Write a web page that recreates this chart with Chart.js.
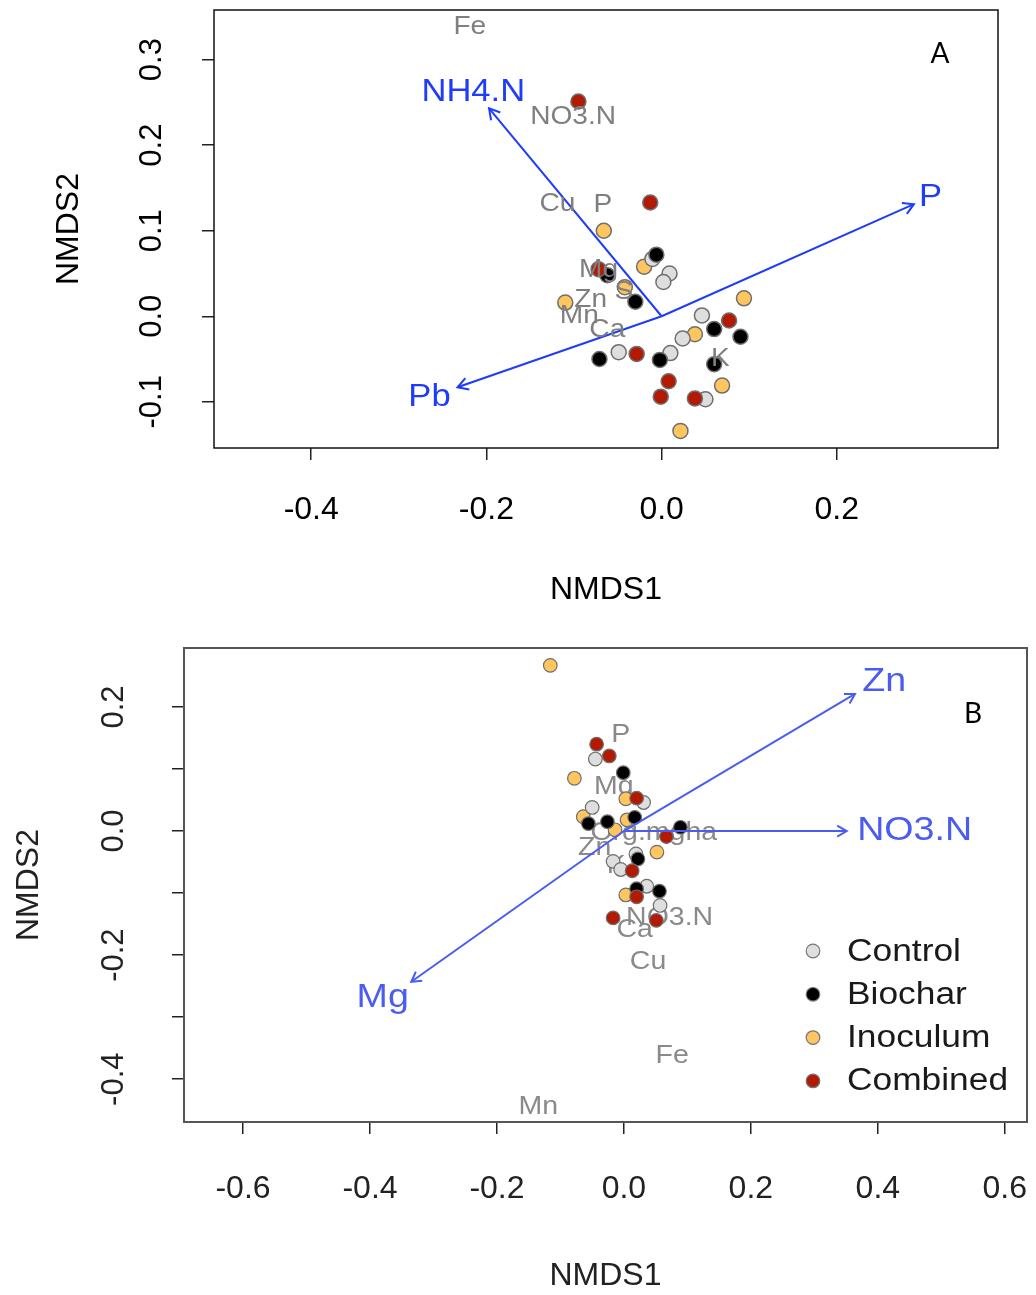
<!DOCTYPE html>
<html>
<head>
<meta charset="utf-8">
<title>NMDS ordination</title>
<script src="https://cdn.jsdelivr.net/npm/chart.js@4.4.0/dist/chart.umd.min.js"></script>
<style>
  html, body { margin: 0; padding: 0; background: #fff; }
  #chartA { position: absolute; left: 0; top: 0; }
  #chartB { position: absolute; left: 0; top: 620px; }
</style>
</head>
<body>
<canvas id="chartA" width="1036" height="620"></canvas>
<canvas id="chartB" width="1036" height="675"></canvas>
<script>
// ---- data ----
const groups = ['Control', 'Biochar', 'Inoculum', 'Combined'];

// Panel A site scores [NMDS1, NMDS2]
const controlA = [[-0.0105, 0.067], [0.009, 0.050], [0.002, 0.040], [0.046, 0.001],
                  [0.024, -0.026], [-0.049, -0.042], [0.010, -0.043], [0.050, -0.097]];
const biocharA = [[-0.006, 0.072], [-0.062, 0.048], [-0.030, 0.017], [0.060, -0.015],
                  [0.090, -0.024], [-0.071, -0.050], [-0.002, -0.051], [0.060, -0.056]];
const inoculumA = [[-0.066, 0.100], [-0.020, 0.058], [-0.042, 0.034], [-0.110, 0.016],
                   [0.094, 0.021], [0.038, -0.021], [0.069, -0.081], [0.0215, -0.134]];
const combinedA = [[-0.095, 0.251], [-0.013, 0.133], [-0.072, 0.055], [-0.0285, -0.044],
                   [0.077, -0.005], [0.008, -0.076], [-0.001, -0.094], [0.038, -0.096]];

// Panel A fitted vectors
const vectorNamesA = ['NH4.N', 'P', 'Pb'];
const vectorTipsA = [[-0.197, 0.243], [0.288, 0.131], [-0.233, -0.083]];
const vectorLabelPosA = [[-0.215, 0.262], [0.307, 0.139], [-0.265, -0.094]];

// Panel A variable labels (grey)
const speciesNamesA = ['Fe', 'NO3.N', 'Cu', 'P', 'Mg', 'S', 'Zn', 'Mn', 'Ca', 'K'];
const speciesPosA = [[-0.219, 0.338], [-0.101, 0.233], [-0.119, 0.131], [-0.067, 0.130],
                     [-0.072, 0.054], [-0.043, 0.029], [-0.081, 0.019], [-0.094, 0.000],
                     [-0.062, -0.016], [0.067, -0.050]];

const xTicksA = [-0.4, -0.2, 0.0, 0.2];
const xTickLabelsA = ['-0.4', '-0.2', '0.0', '0.2'];
const yTicksA = [-0.1, 0.0, 0.1, 0.2, 0.3];
const yTickLabelsA = ['-0.1', '0.0', '0.1', '0.2', '0.3'];

// Panel B site scores
const controlB = [[-0.045, 0.116], [-0.050, 0.038], [0.031, 0.046], [0.019, -0.037],
                  [-0.017, -0.049], [-0.005, -0.062], [0.036, -0.089], [0.057, -0.120]];
const biocharB = [[-0.001, 0.094], [-0.056, 0.012], [-0.026, 0.015], [0.017, 0.022],
                  [0.089, 0.006], [0.022, -0.045], [0.056, -0.097], [0.020, -0.093]];
const inoculumB = [[-0.116, 0.267], [-0.078, 0.085], [0.003, 0.052], [-0.064, 0.023],
                   [0.005, 0.018], [-0.014, 0.002], [0.052, -0.034], [0.003, -0.103]];
const combinedB = [[-0.043, 0.140], [-0.023, 0.121], [0.020, 0.053], [0.067, -0.009],
                   [0.013, -0.064], [0.020, -0.106], [-0.017, -0.140], [0.051, -0.144]];

const vectorNamesB = ['Zn', 'NO3.N', 'Mg'];
const vectorTipsB = [[0.364, 0.221], [0.351, 0.000], [-0.335, -0.243]];
const vectorLabelPosB = [[0.410, 0.241], [0.458, 0.000], [-0.380, -0.269]];

const speciesNamesB = ['P', 'Mg', 'Org.mgha', 'Zn', 'K', 'NO3.N', 'Ca', 'Cu', 'Fe', 'Mn'];
const speciesPosB = [[-0.005, 0.155], [-0.016, 0.071], [0.047, -0.003], [-0.046, -0.027],
                     [-0.012, -0.057], [0.072, -0.140], [0.017, -0.160], [0.038, -0.211],
                     [0.076, -0.363], [-0.135, -0.445]];

const xTicksB = [-0.6, -0.4, -0.2, 0.0, 0.2, 0.4, 0.6];
const xTickLabelsB = ['-0.6', '-0.4', '-0.2', '0.0', '0.2', '0.4', '0.6'];
const yTicksB = [-0.4, -0.3, -0.2, -0.1, 0.0, 0.1, 0.2];
const yTickLabelsB = ['-0.4', '', '-0.2', '', '0.0', '', '0.2'];

// ---- styling ----
const FONT = '"Liberation Sans", Arial, Helvetica, sans-serif';
const groupFill = ['#dedede', '#000000', '#ffc660', '#b31a04'];
const groupOrder = [3, 2, 4, 1];   // higher = drawn lower

const panelInfo = {
  chartA: {
    speciesNames: speciesNamesA, speciesPos: speciesPosA,
    vectorNames: vectorNamesA, vectorLabelPos: vectorLabelPosA,
    blue: '#1e3cfa', grey: '#7f7f7f', speciesSize: 26, vectorSize: 32, stretch: 1.08,
    labelsUnder: false, frameColor: '#111', letter: 'A', letterPos: [940, 54],
    headLen: 12, legend: false
  },
  chartB: {
    speciesNames: speciesNamesB, speciesPos: speciesPosB,
    vectorNames: vectorNamesB, vectorLabelPos: vectorLabelPosB,
    blue: '#4a5cf2', grey: '#8a8a8a', speciesSize: 25, vectorSize: 33, stretch: 1.14,
    labelsUnder: true, frameColor: '#555', letter: 'B', letterPos: [973, 94],
    headLen: 11, legend: true
  }
};

// text drawn slightly wider than tall, like the stretched original
function stretchedText(ctx, txt, x, y, sx) {
  ctx.save();
  ctx.translate(x, y);
  ctx.scale(sx, 1);
  ctx.fillText(txt, 0, 0);
  ctx.restore();
}

function drawSpecies(chart, info) {
  const ctx = chart.ctx, xs = chart.scales.x, ys = chart.scales.y;
  ctx.save();
  ctx.font = info.speciesSize + 'px ' + FONT;
  ctx.fillStyle = info.grey;
  ctx.textAlign = 'center';
  ctx.textBaseline = 'middle';
  info.speciesNames.forEach((name, i) => {
    const p = info.speciesPos[i];
    stretchedText(ctx, name, xs.getPixelForValue(p[0]), ys.getPixelForValue(p[1]), info.stretch);
  });
  ctx.restore();
}

function drawVectorExtras(chart, info) {
  const ctx = chart.ctx, xs = chart.scales.x, ys = chart.scales.y;
  ctx.save();
  chart.data.datasets.forEach((ds, i) => {
    if (!ds.isVector) return;
    const pts = chart.getDatasetMeta(i).data;
    const a = pts[0], b = pts[1];
    const ang = Math.atan2(b.y - a.y, b.x - a.x);
    const len = info.headLen;
    ctx.strokeStyle = ds.borderColor;
    ctx.lineWidth = ds.borderWidth;
    ctx.beginPath();
    ctx.moveTo(b.x - len * Math.cos(ang - Math.PI / 6), b.y - len * Math.sin(ang - Math.PI / 6));
    ctx.lineTo(b.x, b.y);
    ctx.lineTo(b.x - len * Math.cos(ang + Math.PI / 6), b.y - len * Math.sin(ang + Math.PI / 6));
    ctx.stroke();
  });
  ctx.font = info.vectorSize + 'px ' + FONT;
  ctx.fillStyle = info.blue;
  ctx.textAlign = 'center';
  ctx.textBaseline = 'middle';
  info.vectorNames.forEach((name, i) => {
    const p = info.vectorLabelPos[i];
    stretchedText(ctx, name, xs.getPixelForValue(p[0]), ys.getPixelForValue(p[1]), info.stretch);
  });
  ctx.restore();
}

function drawLegend(chart, info) {
  const ctx = chart.ctx;
  ctx.save();
  ctx.font = '31px ' + FONT;
  ctx.textAlign = 'left';
  ctx.textBaseline = 'middle';
  groups.forEach((g, i) => {
    const y = 331 + i * 43.3;
    ctx.beginPath();
    ctx.arc(813, y, 6.8, 0, Math.PI * 2);
    ctx.fillStyle = groupFill[i];
    ctx.fill();
    ctx.lineWidth = 1.2;
    ctx.strokeStyle = '#777';
    ctx.stroke();
    ctx.fillStyle = '#1a1a1a';
    stretchedText(ctx, g, 847, y + 1, info.stretch);
  });
  ctx.restore();
}

const decorPlugin = {
  id: 'decor',
  beforeDatasetsDraw(chart) {
    const info = panelInfo[chart.canvas.id];
    if (info.labelsUnder) drawSpecies(chart, info);
  },
  afterDatasetsDraw(chart) {
    const info = panelInfo[chart.canvas.id];
    if (!info.labelsUnder) drawSpecies(chart, info);
    drawVectorExtras(chart, info);
    const ctx = chart.ctx, ca = chart.chartArea;
    ctx.save();
    ctx.strokeStyle = info.frameColor;
    ctx.lineWidth = info.legend ? 2 : 1.5;
    ctx.strokeRect(ca.left, ca.top, ca.right - ca.left, ca.bottom - ca.top);
    ctx.font = '28px Lato, "Open Sans", sans-serif';
    ctx.fillStyle = '#000';
    ctx.textAlign = 'center';
    ctx.textBaseline = 'middle';
    ctx.fillText(info.letter, info.letterPos[0], info.letterPos[1]);
    ctx.restore();
    if (info.legend) drawLegend(chart, info);
  }
};

function toXY(arr) {
  return arr.map(p => ({ x: p[0], y: p[1] }));
}

function buildPanel(id, d) {
  const datasets = [];
  d.points.forEach((pts, gi) => {
    datasets.push({
      label: groups[gi],
      data: toXY(pts),
      backgroundColor: groupFill[gi],
      borderColor: '#6f6f6f',
      borderWidth: d.pointBorder,
      pointRadius: d.pointRadius,
      pointHoverRadius: d.pointRadius,
      order: groupOrder[gi]
    });
  });
  d.vectors.forEach((tip, vi) => {
    datasets.push({
      label: d.vectorNames[vi],
      isVector: true,
      data: [{ x: 0, y: 0 }, { x: tip[0], y: tip[1] }],
      showLine: true,
      borderColor: panelInfo[id].blue,
      borderWidth: 2,
      pointRadius: 0,
      order: 0
    });
  });

  const gridStyle = { drawOnChartArea: false, drawTicks: true, tickLength: 12, color: '#222', lineWidth: 1.5 };

  return new Chart(document.getElementById(id), {
    type: 'scatter',
    data: { datasets: datasets },
    options: {
      responsive: false,
      animation: false,
      events: [],
      layout: { padding: d.padding },
      plugins: { legend: { display: false }, tooltip: { enabled: false } },
      scales: {
        x: {
          type: 'linear', min: d.xRange[0], max: d.xRange[1],
          afterBuildTicks: s => { s.ticks = d.xTicks.map(v => ({ value: v })); },
          afterFit: s => { s.height = d.xAxisHeight; s.paddingLeft = 0; s.paddingRight = 0; },
          ticks: {
            callback: (v, i) => d.xTickLabels[i],
            font: { family: FONT, size: 32 }, color: d.tickColor,
            padding: d.xTickPad, maxRotation: 0, autoSkip: false
          },
          grid: gridStyle,
          border: { display: false },
          title: { display: true, text: 'NMDS1', font: { family: FONT, size: 32 }, color: d.tickColor,
                   padding: { top: 0, bottom: d.xTitlePad } }
        },
        y: {
          type: 'linear', min: d.yRange[0], max: d.yRange[1],
          afterBuildTicks: s => { s.ticks = d.yTicks.map(v => ({ value: v })); },
          afterFit: s => { s.width = d.yAxisWidth; s.paddingTop = 0; s.paddingBottom = 0; },
          ticks: {
            callback: (v, i) => d.yTickLabels[i],
            font: { family: FONT, size: 31 }, color: d.tickColor,
            padding: d.yTickPad, minRotation: 90, maxRotation: 90,
            crossAlign: 'center', autoSkip: false
          },
          grid: gridStyle,
          border: { display: false },
          title: { display: true, text: 'NMDS2', font: { family: FONT, size: 32 }, color: d.tickColor,
                   padding: { top: d.yTitlePad, bottom: 0 } }
        }
      }
    },
    plugins: [decorPlugin]
  });
}

buildPanel('chartA', {
  points: [controlA, biocharA, inoculumA, combinedA],
  vectors: vectorTipsA, vectorNames: vectorNamesA,
  pointRadius: 7.5, pointBorder: 1.5,
  xRange: [-0.511, 0.384], yRange: [-0.154, 0.358],
  xTicks: xTicksA, xTickLabels: xTickLabelsA, yTicks: yTicksA, yTickLabels: yTickLabelsA,
  padding: { top: 10, right: 38, left: 0, bottom: 0 },
  xAxisHeight: 172, yAxisWidth: 214,
  xTickPad: 31, yTickPad: 23, xTitlePad: 11, yTitlePad: 50,
  tickColor: '#000'
});

buildPanel('chartB', {
  points: [controlB, biocharB, inoculumB, combinedB],
  vectors: vectorTipsB, vectorNames: vectorNamesB,
  pointRadius: 6.8, pointBorder: 1.2,
  xRange: [-0.693, 0.635], yRange: [-0.469, 0.295],
  xTicks: xTicksB, xTickLabels: xTickLabelsB, yTicks: yTicksB, yTickLabels: yTickLabelsB,
  padding: { top: 28, right: 9, left: 0, bottom: 0 },
  xAxisHeight: 173, yAxisWidth: 184,
  xTickPad: 36, yTickPad: 31, xTitlePad: 0, yTitlePad: 10,
  tickColor: '#222'
});
</script>
</body>
</html>
